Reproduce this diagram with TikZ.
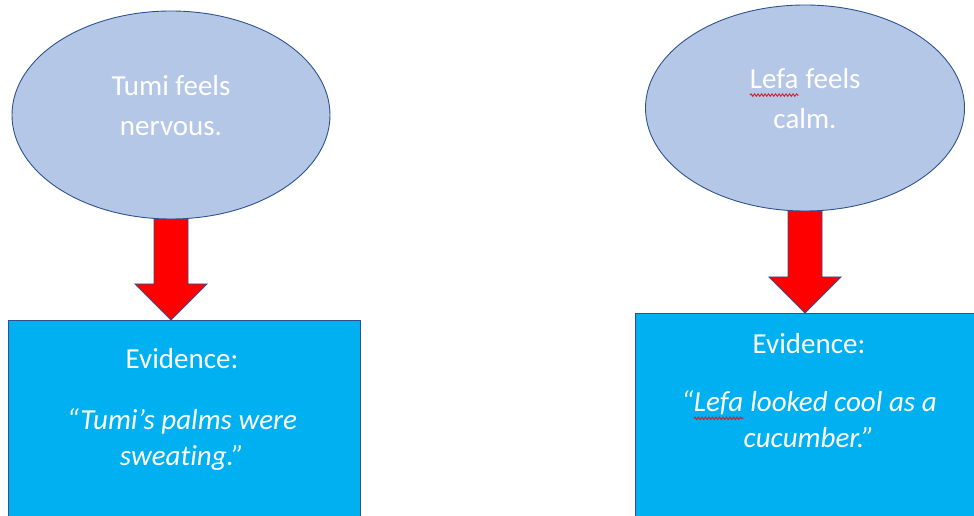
\documentclass[tikz,border=0pt]{standalone}
\usepackage{fontspec}
\setmainfont{Carlito}[Ligatures=NoCommon]
\usetikzlibrary{shapes.geometric,calc,positioning,decorations.pathmorphing}

\definecolor{feelfill}{HTML}{B4C7E7}
\definecolor{evfill}{HTML}{00B0F0}
\definecolor{edge}{HTML}{2F528F}
\definecolor{wavy}{HTML}{D02020}

% red wavy line under a word
\newcommand{\squig}[1]{\tikz[baseline=(w.base)]{%
  \node[shape=rectangle, draw=none, fill=none, inner sep=0pt, outer sep=0pt,
        minimum width=0pt, minimum height=0pt, text depth=, anchor=base] (w) {#1};
  \draw[wavy, line width=0.9pt, decorate, decoration={snake, amplitude=1.2pt, segment length=3.5pt}]
    ([yshift=-7pt]w.base west) -- ([yshift=-7pt]w.base east);}}

% fat red arrow from an ellipse down onto its box
\newcommand{\feelarrow}[2]{%
  \draw[blockarrow] (#1.south |- #2.north) -- ++(-36,36) -- ++(19,0) |- (#1.south)
    -| ($(#1.south |- #2.north)+(17,36)$) -- ++(19,0) -- cycle;}

\begin{document}
\begin{tikzpicture}[x=1pt, y=1pt,
    feel/.style={ellipse, draw=edge, line width=0.9pt, fill=feelfill, inner sep=0pt,
                 minimum width=318pt, minimum height=208pt, text=white, align=center,
                 text depth=20pt, font=\fontsize{29}{40}\selectfont},
    evbox/.style={rectangle, draw=edge, line width=0.9pt, fill=evfill, anchor=north,
                  minimum width=352pt, minimum height=260pt},
    evtext/.style={text=white, align=center, inner sep=0pt, font=\fontsize{29}{36}\selectfont},
    blockarrow/.style={fill=red, draw=edge, line width=0.9pt, line join=miter}]
    \clip (0,0) rectangle (974,516);

    % feelings
    \node[feel] (tumi) at (171,401) {Tumi feels\\nervous.};
    \node[feel, minimum width=319pt, minimum height=206pt] (lefa) at (805,408) {\squig{Lefa} feels\\calm.};

    % evidence boxes, cut off by the page edge
    \node[evbox] (tumiev) at (184,196) {};
    \node[evbox, minimum width=360pt] (lefaev) at (815,203) {};
    \node[evtext, below=28pt of tumiev.north, xshift=-2pt] (tumiquote)
        {Evidence:\\[25pt]\textit{“Tumi’s palms were}\\\textit{sweating.”}};
    \node[evtext, below=20pt of lefaev.north, xshift=-6pt] (lefaquote)
        {Evidence:\\[22pt]\textit{“\squig{Lefa} looked cool as a}\\\textit{cucumber.”}};

    \feelarrow{tumi}{tumiev}
    \feelarrow{lefa}{lefaev}
\end{tikzpicture}
\end{document}
